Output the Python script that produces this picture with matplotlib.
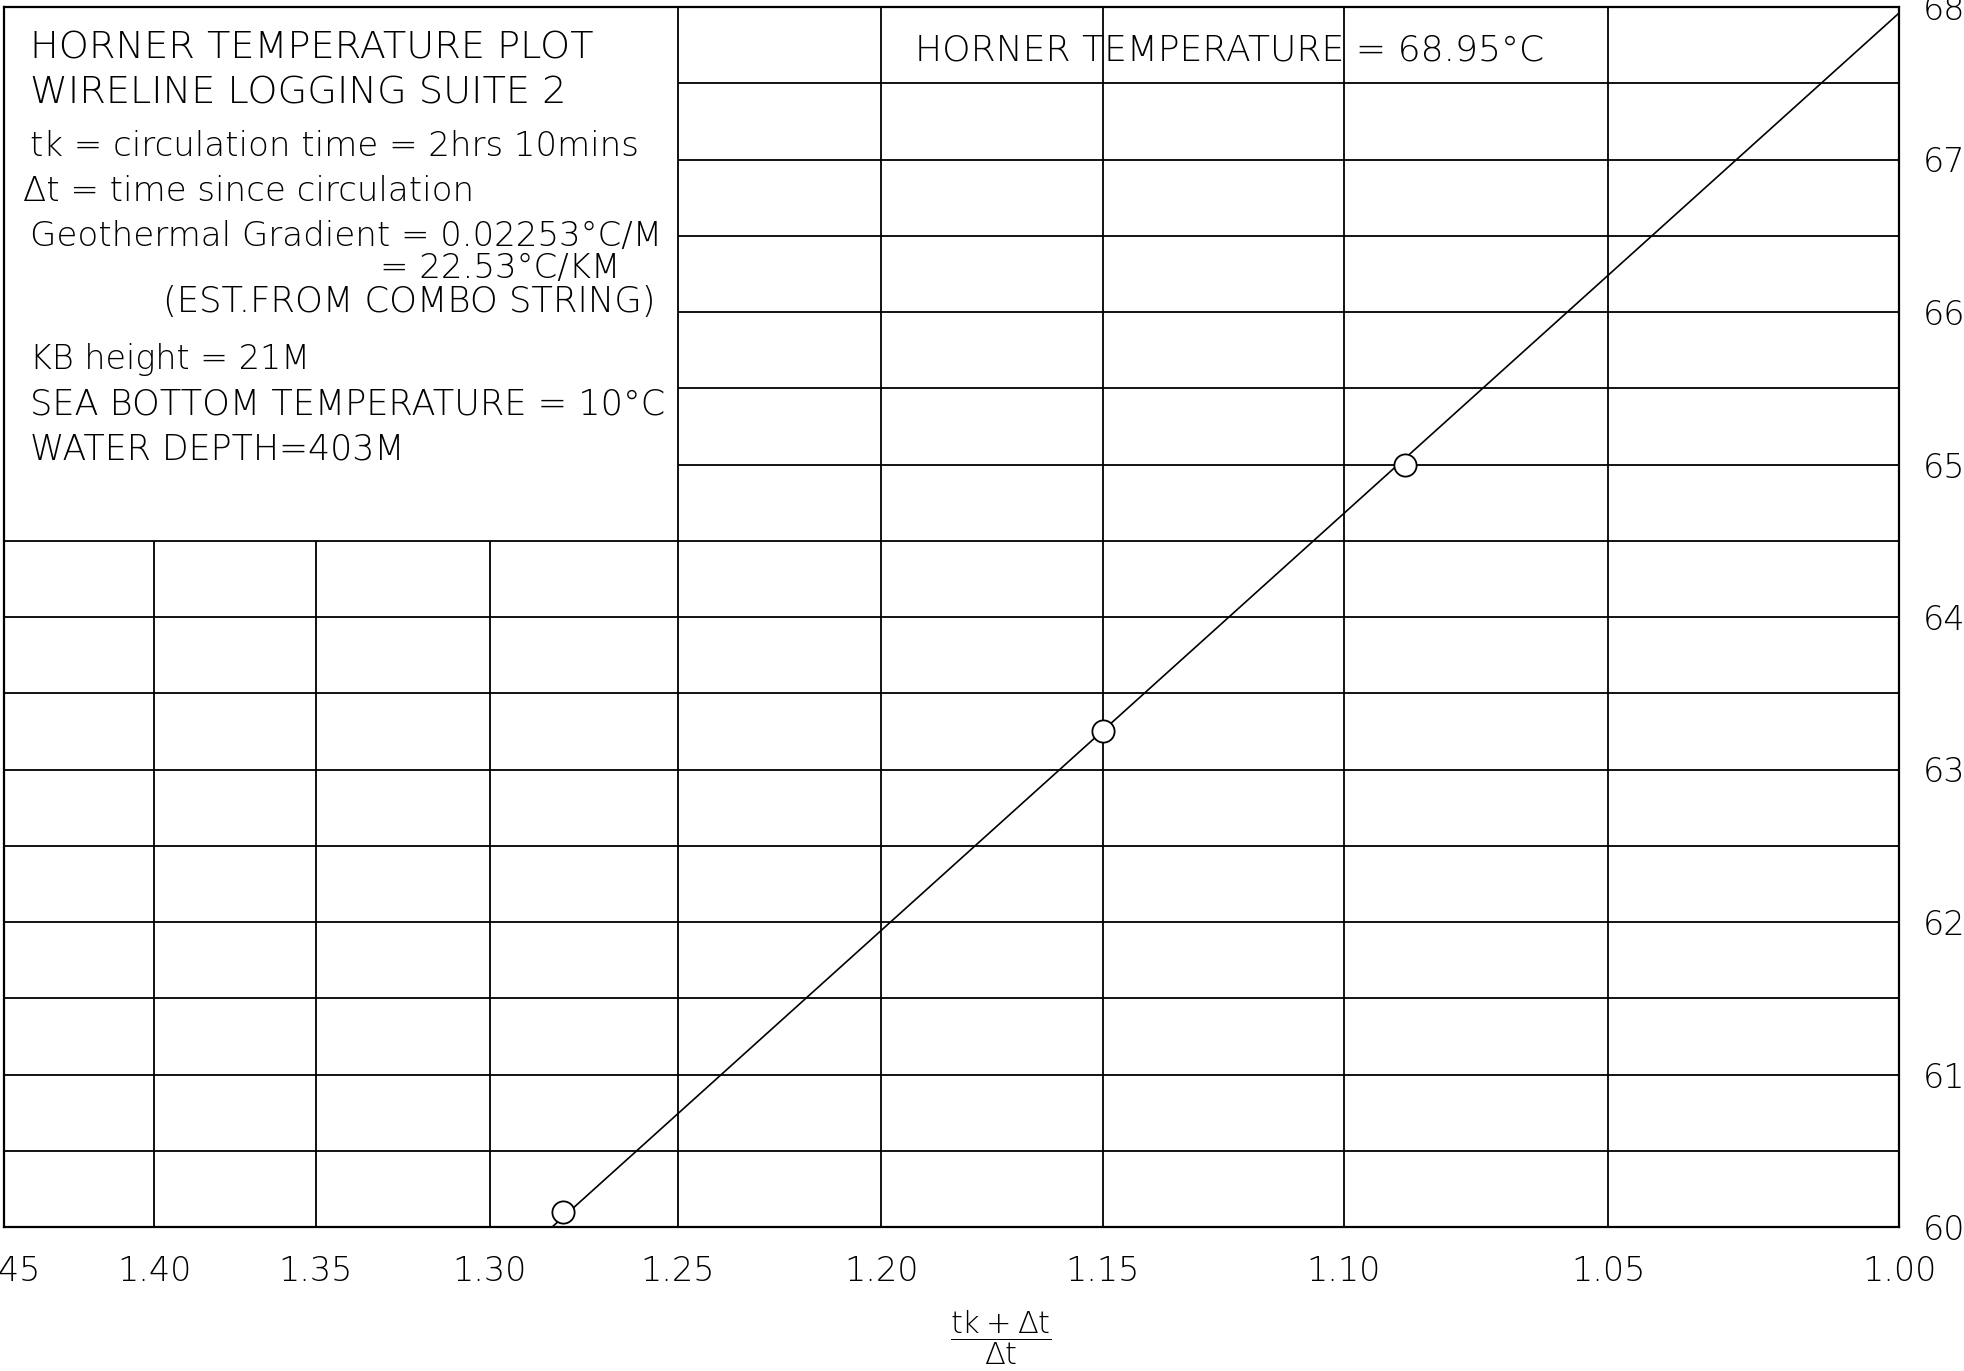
import numpy as np
import matplotlib
matplotlib.use('Agg')
import matplotlib.pyplot as plt

plt.rcParams['font.family'] = ['DejaVu Sans']
plt.rcParams['font.weight'] = 200

# measured temperatures vs Horner ratio (tk+dt)/dt
horner_x = [1.28, 1.15, 1.088]
temps = [60.1, 63.25, 65.0]
# straight line drawn through them
fit_x = [1.283, 1.00]
fit_y = [60.0, 67.96]

xticks = [1.45, 1.40, 1.35, 1.30, 1.25, 1.20, 1.15, 1.10, 1.05, 1.00]
yticks = [60, 61, 62, 63, 64, 65, 66, 67, 68]
ygrid = np.arange(60, 68.01, 0.5)

# the info box sits in the top left corner of the grid
box_xmax = 1.25
box_ymin = 64.5

info_text = [
    "HORNER TEMPERATURE PLOT",
    "WIRELINE LOGGING SUITE 2",
    "tk = circulation time = 2hrs 10mins",
    "\u0394t = time since circulation",
    "Geothermal Gradient = 0.02253\u00b0C/M",
    "= 22.53\u00b0C/KM",
    "(EST.FROM COMBO STRING)",
    "KB height = 21M",
    "SEA BOTTOM TEMPERATURE = 10\u00b0C",
    "WATER DEPTH=403M",
]
horner_label = "HORNER TEMPERATURE = 68.95\u00b0C"

# layout of the box text (axes fractions) and font sizes
text_pos = [(0.0137, 0.9667), (0.0137, 0.9297), (0.0137, 0.8856), (0.0098, 0.8486),
            (0.0137, 0.8116), (0.1983, 0.7859), (0.0839, 0.7582), (0.0137, 0.7109),
            (0.0137, 0.6739), (0.0137, 0.6370)]
text_size = [27.5, 27.5, 24.5, 24.5, 24.5, 24.5, 25.5, 24, 25.3, 25]

fig = plt.figure(figsize=(19.65, 13.71), dpi=100)
ax = fig.add_axes([4/1965, 1 - 1227/1371, 1895/1965, 1220/1371])

# x axis is linear in dt/(tk+dt)
ax.set_xscale('function', functions=(lambda x: 1.0/np.asarray(x, dtype=float),
                                     lambda u: 1.0/np.asarray(u, dtype=float)))
ax.set_xlim(1.00, 1.45)
ax.set_ylim(60, 68)

lw = 1.3
for y in ygrid[1:-1]:
    if y > box_ymin:
        ax.hlines(y, box_xmax, 1.00, color='black', lw=lw)
    else:
        ax.hlines(y, 1.45, 1.00, color='black', lw=lw)
for x in xticks[1:-1]:
    if x > box_xmax:
        ax.vlines(x, 60, box_ymin, color='black', lw=lw)
    else:
        ax.vlines(x, 60, 68, color='black', lw=lw)

ax.plot(fit_x, fit_y, color='black', lw=1.2, zorder=3)
ax.plot(horner_x, temps, 'o', mfc='white', mec='black', ms=16, mew=1.3, zorder=4)

for s in ax.spines.values():
    s.set_linewidth(1.6)

ax.set_xticks(xticks)
ax.set_xticklabels([f"{v:.2f}" for v in xticks])
ax.xaxis.set_minor_locator(plt.NullLocator())
ax.tick_params(axis='x', length=0, pad=20, labelsize=24)

ax.yaxis.tick_right()
ax.set_yticks(yticks)
ax.set_yticklabels([str(v) for v in yticks])
ax.set_yticks([60, 68], minor=True)
ax.tick_params(axis='y', which='major', length=0, pad=17, labelsize=24)
ax.tick_params(axis='y', which='minor', length=8, width=1.0, right=True, left=False)

for txt, (xf, yf), fs in zip(info_text, text_pos, text_size):
    ax.text(xf, yf, txt, transform=ax.transAxes, ha='left', va='center', fontsize=fs)
ax.text(0.4806, 0.9647, horner_label, transform=ax.transAxes, ha='left', va='center',
        fontsize=26)

ax.set_xlabel(r'$\dfrac{\mathrm{tk+\Delta t}}{\mathrm{\Delta t}}$', fontsize=22)
ax.xaxis.set_label_coords(0.526, -0.091)
ax.xaxis.label.set_va('center')

fig.savefig('out.png', dpi=100)
